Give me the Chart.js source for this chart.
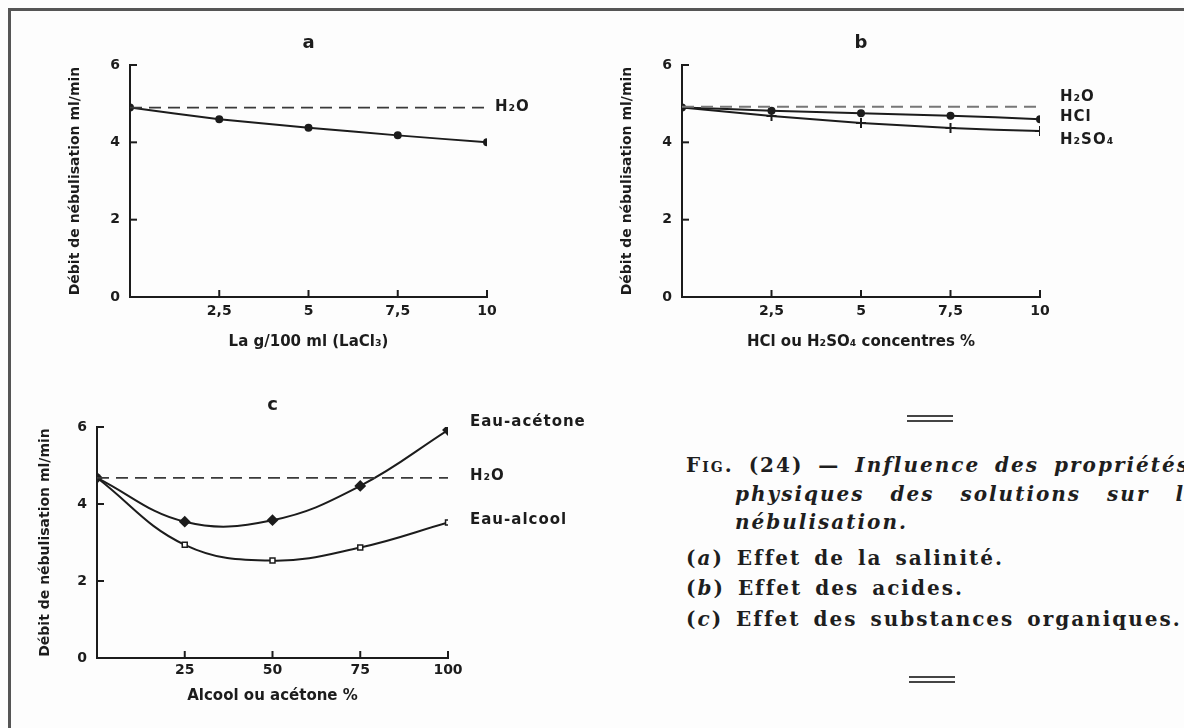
<!DOCTYPE html>
<html>
<head>
<meta charset="utf-8">
<script src="https://cdn.jsdelivr.net/npm/chart.js@4.4.1/dist/chart.umd.min.js"></script>
<style>
body { margin: 0; width: 1184px; height: 728px; overflow: hidden; background: #fdfdfd; position: relative; }
.frame { position: absolute; left: 8px; top: 8px; width: 1200px; height: 740px; border-left: 3px solid #555; border-top: 3px solid #555; }
canvas { position: absolute; }
.cap { position: absolute; font-family: "DejaVu Serif", serif; font-weight: bold; font-size: 20px; letter-spacing: 2px; word-spacing: 4px; color: #1e1e1e; white-space: nowrap; }
.rule { position: absolute; width: 46px; height: 3px; border-top: 2px solid #444; border-bottom: 2px solid #444; }
</style>
</head>
<body>
<div class="frame"></div>
<canvas id="chartA"></canvas>
<canvas id="chartB"></canvas>
<canvas id="chartC"></canvas>

<div class="rule" style="left:907px;top:415px"></div>
<div class="cap" style="left:686px;top:453px;word-spacing:6px"><span style="font-variant:small-caps">Fig.</span> (24) — <i>Influence des propriétés</i></div>
<div class="cap" style="left:735px;top:482px;word-spacing:17px"><i>physiques des solutions sur la</i></div>
<div class="cap" style="left:735px;top:510px"><i>nébulisation.</i></div>
<div class="cap" style="left:686px;top:546px">(<i>a</i>) Effet de la salinité.</div>
<div class="cap" style="left:686px;top:576px">(<i>b</i>) Effet des acides.</div>
<div class="cap" style="left:686px;top:607px">(<i>c</i>) Effet des substances organiques.</div>
<div class="rule" style="left:909px;top:676px"></div>

<script>
// (a) salinité
const xLa = [0, 2.5, 5, 7.5, 10];
const debitLa = [4.9, 4.6, 4.38, 4.18, 4.0];
const h2oA = 4.9;

// (b) acides
const xAcide = [0, 2.5, 5, 7.5, 10];
const debitHCl = [4.9, 4.82, 4.75, 4.69, 4.6];
const debitH2SO4 = [4.9, 4.68, 4.5, 4.37, 4.29];
const h2oB = 4.92;

// (c) substances organiques
const xAlcool = [0, 25, 50, 75, 100];
const debitAcetone = [4.68, 3.54, 3.58, 4.47, 5.92];
const debitAlcool = [4.68, 2.94, 2.53, 2.87, 3.52];
const h2oC = 4.68;

const yTicks = [0, 2, 4, 6];
const yTitle = 'Débit de nébulisation ml/min';

const INK = '#1c1c1c';
const SANS = '"DejaVu Sans", sans-serif';

const pts = (xs, ys) => xs.map((x, i) => ({ x: x, y: ys[i] }));

// panel letter, inward ticks and labels at line ends
const panelPlugin = {
    id: 'panel',
    afterDraw(chart, args, opts) {
        const c = chart.ctx;
        const area = chart.chartArea;
        const xs = chart.scales.x, ys = chart.scales.y;
        c.save();
        c.strokeStyle = INK;
        c.lineWidth = 2;
        ys.ticks.forEach(t => {
            if (t.value === 0) return;
            const y = ys.getPixelForValue(t.value);
            c.beginPath(); c.moveTo(area.left, y); c.lineTo(area.left + 7, y); c.stroke();
        });
        xs.ticks.forEach(t => {
            if (t.value === 0) return;
            const x = xs.getPixelForValue(t.value);
            c.beginPath(); c.moveTo(x, area.bottom); c.lineTo(x, area.bottom - 7); c.stroke();
        });
        c.fillStyle = INK;
        c.font = 'bold 18px ' + SANS;
        c.textAlign = 'center';
        c.textBaseline = 'middle';
        c.fillText(opts.letter, (area.left + area.right) / 2, area.top - 22);

        c.font = 'bold 15px ' + SANS;
        c.letterSpacing = '1px';
        c.textAlign = 'left';
        chart.data.datasets.forEach(ds => {
            if (!ds.endLabel) return;
            const last = ds.data[ds.data.length - 1];
            const x = xs.getPixelForValue(last.x) + ds.endLabel.dx;
            const y = ys.getPixelForValue(last.y) + ds.endLabel.dy;
            c.fillText(ds.endLabel.text, x, y);
        });
        c.letterSpacing = '0px';
        c.restore();
    }
};

function makeOptions(letter, xMax, xStep, xTitle, pad, yWidth, xHeight, tickPad) {
    return {
        responsive: false,
        animation: false,
        layout: { padding: pad },
        plugins: {
            legend: { display: false },
            tooltip: { enabled: false },
            panel: { letter: letter }
        },
        scales: {
            x: {
                type: 'linear',
                min: 0,
                max: xMax,
                grid: { drawOnChartArea: false, drawTicks: false },
                border: { display: true, color: INK, width: 2 },
                ticks: {
                    stepSize: xStep,
                    padding: tickPad,
                    color: INK,
                    font: { family: SANS, size: 14, weight: 'bold' },
                    callback: v => v === 0 ? '' : String(v).replace('.', ',')
                },
                title: { display: true, text: xTitle, color: INK, font: { family: SANS, size: 15, weight: 'bold' } },
                afterFit: s => { s.height = xHeight; }
            },
            y: {
                min: 0,
                max: 6,
                afterBuildTicks: s => { s.ticks = yTicks.map(v => ({ value: v })); },
                grid: { drawOnChartArea: false, drawTicks: false },
                border: { display: true, color: INK, width: 2 },
                ticks: {
                    padding: 10,
                    color: INK,
                    font: { family: SANS, size: 14, weight: 'bold' }
                },
                title: { display: true, text: yTitle, color: INK, font: { family: SANS, size: 14, weight: 'bold' } },
                afterFit: s => { s.width = yWidth; }
            }
        }
    };
}

function place(id, left, top, w, h) {
    const el = document.getElementById(id);
    el.width = w; el.height = h;
    el.style.left = left + 'px';
    el.style.top = top + 'px';
    el.style.width = w + 'px';
    el.style.height = h + 'px';
    return el.getContext('2d');
}

const solid = { borderColor: INK, borderWidth: 2, pointBackgroundColor: INK, pointBorderColor: INK, fill: false };
const dashed = (y, xMax, color, label, dx, dy) => ({
    data: [{ x: 0, y: y }, { x: xMax, y: y }],
    borderColor: color, borderWidth: 1.8, borderDash: [12, 7], pointRadius: 0, fill: false,
    endLabel: { text: label, dx: dx, dy: dy }
});

// chart a
new Chart(place('chartA', 63, 20, 494, 335), {
    type: 'line',
    data: {
        datasets: [
            dashed(h2oA, 10, '#3a3a3a', 'H₂O', 8, 0),
            Object.assign({ data: pts(xLa, debitLa), tension: 0.15, pointRadius: 3 }, solid)
        ]
    },
    options: makeOptions('a', 10, 2.5, 'La g/100 ml (LaCl₃)', { top: 45, right: 70, left: 0, bottom: 0 }, 67, 58, 6),
    plugins: [panelPlugin]
});

// chart b
new Chart(place('chartB', 615, 20, 535, 335), {
    type: 'line',
    data: {
        datasets: [
            dashed(h2oB, 10, '#777', 'H₂O', 20, -10),
            Object.assign({ data: pts(xAcide, debitHCl), tension: 0.15, pointRadius: 3, endLabel: { text: 'HCl', dx: 20, dy: -2 } }, solid),
            Object.assign({ data: pts(xAcide, debitH2SO4), tension: 0.15, pointStyle: 'cross', pointRadius: 5, pointBorderWidth: 2, endLabel: { text: 'H₂SO₄', dx: 20, dy: 9 } }, solid)
        ]
    },
    options: makeOptions('b', 10, 2.5, 'HCl ou H₂SO₄ concentres %', { top: 45, right: 110, left: 0, bottom: 0 }, 67, 58, 6),
    plugins: [panelPlugin]
});

// chart c
new Chart(place('chartC', 33, 380, 565, 329), {
    type: 'line',
    data: {
        datasets: [
            dashed(h2oC, 100, '#3a3a3a', 'H₂O', 22, -2),
            Object.assign({ data: pts(xAlcool, debitAcetone), tension: 0.4, pointStyle: 'rectRot', pointRadius: 4.5, endLabel: { text: 'Eau-acétone', dx: 22, dy: -8 } }, solid),
            Object.assign({ data: pts(xAlcool, debitAlcool), tension: 0.4, pointStyle: 'rect', pointRadius: 3.5, endLabel: { text: 'Eau-alcool', dx: 22, dy: -2 } }, solid, { pointBackgroundColor: '#fff', pointBorderWidth: 1.5 })
        ]
    },
    options: makeOptions('c', 100, 25, 'Alcool ou acétone %', { top: 47, right: 150, left: 0, bottom: 0 }, 64, 51, 4),
    plugins: [panelPlugin]
});
</script>
</body>
</html>
